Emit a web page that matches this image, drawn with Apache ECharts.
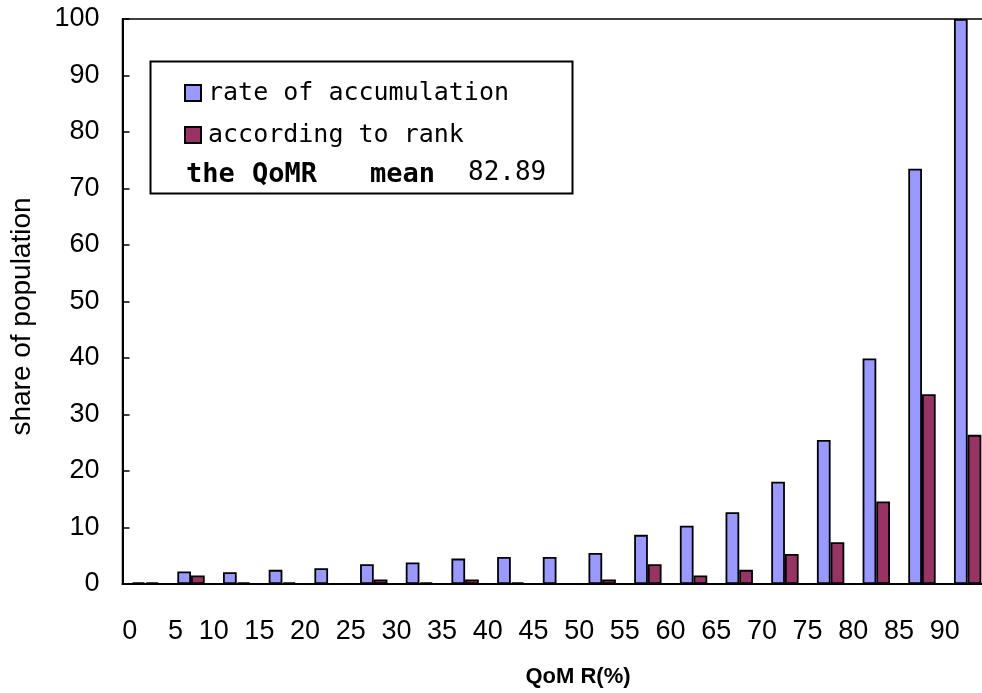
<!DOCTYPE html>
<html>
<head>
<meta charset="utf-8">
<script src="https://cdn.jsdelivr.net/npm/echarts@6/dist/echarts.min.js"></script>
<style>
html,body{margin:0;padding:0;background:#fff;}
#chart{width:982px;height:693px;}
</style>
</head>
<body>
<div id="chart"></div>
<script>
const categories = ['0','5','10','15','20','25','30','35','40','45','50','55','60','65','70','75','80','85','90'];
const rateOfAccumulation = [0.3, 2.2, 2.1, 2.5, 2.8, 3.5, 3.8, 4.5, 4.8, 4.8, 5.5, 8.7, 10.3, 12.7, 18.1, 25.5, 39.9, 73.5, 100];
const accordingToRank = [0.3, 1.5, 0.3, 0.3, 0, 0.8, 0.3, 0.8, 0.3, 0, 0.8, 3.5, 1.5, 2.5, 5.3, 7.4, 14.6, 33.6, 26.4];
const yTicks = {min: 0, max: 100, interval: 10};
const seriesNames = ['rate of accumulation', 'according to rank'];
const meanLabel = 82.89;

const chart = echarts.init(document.getElementById('chart'));
const mono = "'DejaVu Sans Mono', monospace";
chart.setOption({
  animation: false,
  backgroundColor: '#fff',
  grid: {left: 122.5, top: 19, width: 868, height: 565, show: true, borderColor: '#000', borderWidth: 1.5,
         containLabel: false, outerBoundsMode: 'none'},
  legend: {
    orient: 'vertical', left: 184, top: 80, padding: 0,
    itemWidth: 16, itemHeight: 16, itemGap: 16,
    icon: 'rect',
    textStyle: {fontFamily: mono, fontSize: 25, color: '#000', lineHeight: 26, padding: [0,0,0,2]},
    data: seriesNames
  },
  xAxis: {
    type: 'category', data: categories,
    axisLine: {lineStyle: {color: '#000', width: 2}},
    axisTick: {inside: true, length: 8, lineStyle: {color: '#666', width: 1.5}},
    axisLabel: {interval: 0, align: 'right', padding: [0, 8, 0, 0], margin: 34,
      fontFamily: "'Liberation Sans Narrow', 'Liberation Sans', sans-serif", fontSize: 27, color: '#000'},
    name: 'QoM R(%)', nameLocation: 'middle', nameGap: 82,
    nameTextStyle: {fontFamily: "'Liberation Sans', Arial, sans-serif", fontWeight: 'bold', fontSize: 22, color: '#000', padding: [0,0,0,43]}
  },
  yAxis: {
    type: 'value', min: yTicks.min, max: yTicks.max, interval: yTicks.interval,
    splitLine: {show: false},
    axisLine: {show: true, lineStyle: {color: '#000', width: 2}},
    axisTick: {show: true, inside: true, length: 7, lineStyle: {color: '#000', width: 1.5}},
    axisLabel: {margin: 23, fontFamily: "'Liberation Sans', Arial, sans-serif", fontSize: 27, color: '#000'},
    name: 'share of population', nameLocation: 'middle', nameRotate: 90, nameGap: 86,
    nameTextStyle: {fontFamily: "'Liberation Sans', Arial, sans-serif", fontSize: 28, color: '#000', padding: [0, 30, 0, 0]}
  },
  series: [
    {name: seriesNames[0], type: 'bar', data: rateOfAccumulation, barWidth: 13.7, barGap: '0%',
     itemStyle: {color: '#9999FF', borderColor: '#000', borderWidth: 1.8}},
    {name: seriesNames[1], type: 'bar', data: accordingToRank, barWidth: 13.7, barGap: '0%',
     itemStyle: {color: '#993366', borderColor: '#000', borderWidth: 1.8}}
  ],
  graphic: [
    {type: 'rect', left: 148, top: 59, shape: {width: 422, height: 132}, style: {fill: 'none', stroke: '#000', lineWidth: 2}, z: 10},
    {type: 'text', left: 186, top: 161, style: {text: 'the', font: "bold 27px 'DejaVu Sans Mono'", fill: '#000'}, z: 11},
    {type: 'text', left: 252, top: 161, style: {text: 'QoMR', font: "bold 27px 'DejaVu Sans Mono'", fill: '#000'}, z: 11},
    {type: 'text', left: 370, top: 161, style: {text: 'mean', font: "bold 27px 'DejaVu Sans Mono'", fill: '#000'}, z: 11},
    {type: 'text', left: 468, top: 160, style: {text: String(meanLabel), font: "26px 'DejaVu Sans Mono'", fill: '#000'}, z: 11}
  ]
});
</script>
</body>
</html>
